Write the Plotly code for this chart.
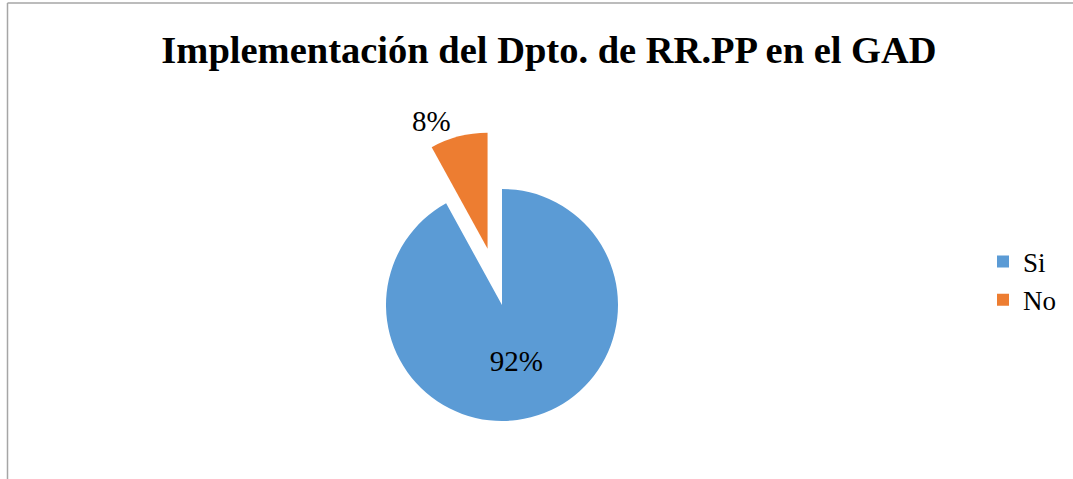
import plotly.graph_objects as go

labels = ["Si", "No"]
values = [92, 8]
colors = ["#5B9BD5", "#ED7D31"]
pulls = [0, 0.5]
title_text = "Implementación del Dpto. de RR.PP en el GAD"

W, H = 1073, 479
FONT = "Liberation Serif, Times New Roman, serif"

def px(x):
    # x in window pixels -> paper fraction
    return x / W

def py(y):
    # y in window pixels (from top) -> paper fraction
    return 1 - y / H

fig = go.Figure(go.Pie(
    labels=labels,
    values=values,
    marker=dict(colors=colors, line=dict(width=0)),
    pull=pulls,
    sort=False,
    direction="clockwise",
    rotation=0,
    texttemplate="%{percent:.0%}",
    textposition=["inside", "outside"],
    insidetextorientation="horizontal",
    textfont=dict(family=FONT, size=29, color="#000000"),
    domain=dict(x=[px(502 - 174), px(502 + 174)], y=[0, py(131)]),
    hoverinfo="label+percent",
))

fig.update_layout(
    width=W, height=H,
    margin=dict(l=0, r=0, t=0, b=0, autoexpand=False),
    paper_bgcolor="white",
    plot_bgcolor="white",
    title=dict(
        text=title_text,
        x=px(549), y=py(50), xanchor="center", yanchor="middle",
        font=dict(family=FONT, size=38.5, color="#000000", weight="bold"),
    ),
    legend=dict(
        x=px(983), y=py(281), xanchor="left", yanchor="middle",
        font=dict(family=FONT, size=27, color="#000000"),
        bgcolor="rgba(0,0,0,0)",
        itemclick=False,
    ),
    shapes=[
        dict(type="line", xref="paper", yref="paper",
             x0=px(7.5), x1=1, y0=py(3), y1=py(3),
             line=dict(color="#A6A6A6", width=1.5)),
        dict(type="line", xref="paper", yref="paper",
             x0=px(7.5), x1=px(7.5), y0=py(3), y1=0,
             line=dict(color="#A6A6A6", width=1.5)),
    ],
)

fig.write_html(
    "out.html",
    config={"displayModeBar": False},
    post_script="document.body.style.margin='0';document.body.style.overflow='hidden';",
)
